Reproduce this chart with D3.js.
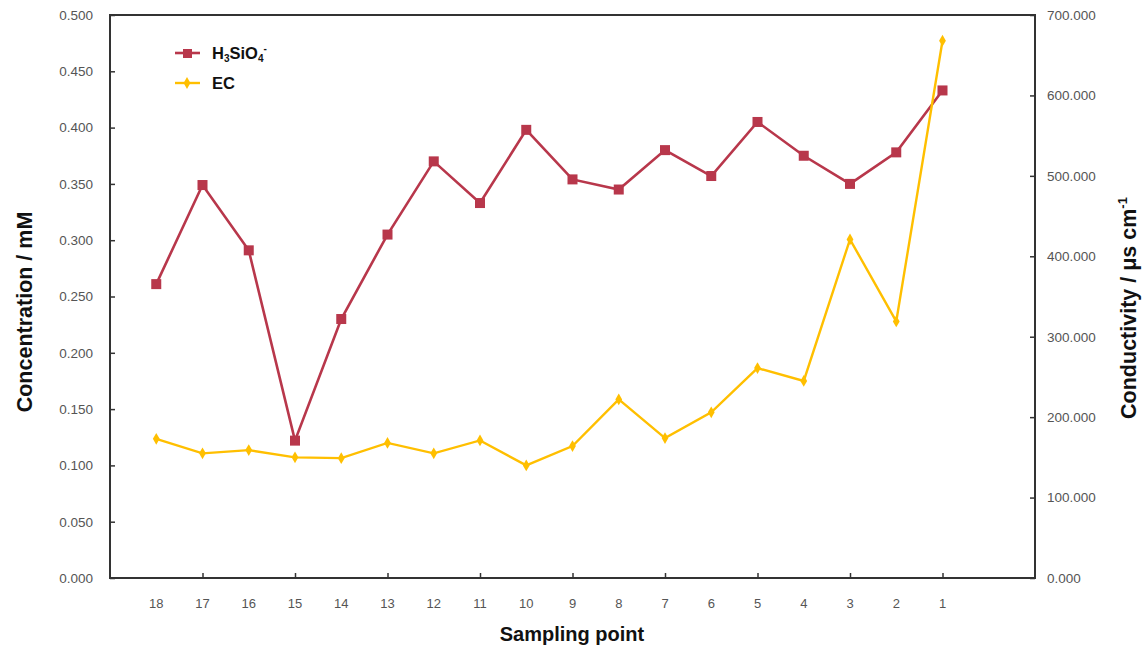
<!DOCTYPE html>
<html><head><meta charset="utf-8">
<script src="https://cdn.jsdelivr.net/npm/d3@7"></script>
<style>body{margin:0;background:#fff}</style>
</head><body>
<svg id="c" width="1145" height="650"></svg>
<script>
const categories = ["18","17","16","15","14","13","12","11","10","9","8","7","6","5","4","3","2","1"];
const silica = [0.261,0.349,0.291,0.122,0.230,0.305,0.370,0.333,0.398,0.354,0.345,0.380,0.357,0.405,0.375,0.350,0.378,0.433];
const ec = [173,155,159,150,149,168,155,171,140,164,222,174,206,261,245,421,319,668];
const leftTicks = [0,0.05,0.1,0.15,0.2,0.25,0.3,0.35,0.4,0.45,0.5];
const rightTicks = [0,100,200,300,400,500,600,700];

const svg = d3.select("#c");
const L = 110, R = 1035, T = 15, B = 578;
const x = d3.scaleLinear().domain([0, categories.length + 2]).range([L, R]);
const yL = d3.scaleLinear().domain([0, 0.5]).range([B, T]);
const yR = d3.scaleLinear().domain([0, 700]).range([B, T]);
const axisColor = "#333";
const tickFont = "Liberation Sans, Arial, sans-serif";

// frame
svg.append("rect").attr("x", L).attr("y", T).attr("width", R - L).attr("height", B - T)
  .attr("fill", "none").attr("stroke", axisColor).attr("stroke-width", 2);

// left axis
const gL = svg.append("g").attr("transform", `translate(${L},0)`)
  .call(d3.axisLeft(yL).tickValues(leftTicks).tickFormat(d3.format(".3f")).tickSize(-5).tickPadding(17));
// right axis
const gR = svg.append("g").attr("transform", `translate(${R},0)`)
  .call(d3.axisRight(yR).tickValues(rightTicks).tickFormat(d => d3.format(".3f")(d)).tickSize(-5).tickPadding(12));
// bottom axis: ticks at even slots, labels at each category
const gB = svg.append("g").attr("transform", `translate(0,${B})`)
  .call(d3.axisBottom(x).tickValues(d3.range(2, categories.length + 1, 2)).tickSize(-5).tickFormat(""));
svg.append("g").selectAll("text").data(categories).join("text")
  .attr("x", (d, i) => x(i + 1)).attr("y", B + 30).attr("text-anchor", "middle")
  .attr("font-family", tickFont).attr("font-size", 13).attr("fill", "#555").text(d => d);

[gL, gR, gB].forEach(g => {
  g.select(".domain").remove();
  g.selectAll(".tick line").attr("stroke", axisColor).attr("stroke-width", 1.5);
  g.selectAll(".tick text").attr("font-family", tickFont).attr("font-size", 13.5).attr("fill", "#555");
});

// series
const red = "#b8374b", yellow = "#ffbf00";
const lineL = d3.line().x((d, i) => x(i + 1)).y(d => yL(d));
const lineR = d3.line().x((d, i) => x(i + 1)).y(d => yR(d));
svg.append("path").datum(silica).attr("d", lineL).attr("fill", "none").attr("stroke", red).attr("stroke-width", 2.6);
svg.append("g").selectAll("rect").data(silica).join("rect")
  .attr("x", (d, i) => x(i + 1) - 5).attr("y", d => yL(d) - 5).attr("width", 10).attr("height", 10).attr("fill", red);
svg.append("path").datum(ec).attr("d", lineR).attr("fill", "none").attr("stroke", yellow).attr("stroke-width", 2.4);
const diamond = d3.symbol().type(d3.symbolDiamond).size(40);
svg.append("g").selectAll("path").data(ec).join("path")
  .attr("transform", (d, i) => `translate(${x(i + 1)},${yR(d)})`).attr("d", diamond).attr("fill", yellow);

// legend
const lg = svg.append("g");
lg.append("line").attr("x1", 175).attr("x2", 200).attr("y1", 53).attr("y2", 53).attr("stroke", red).attr("stroke-width", 2.6);
lg.append("rect").attr("x", 183).attr("y", 49).attr("width", 9).attr("height", 9).attr("fill", red);
const t1 = lg.append("text").attr("x", 212).attr("y", 59).attr("font-family", tickFont).attr("font-weight", "bold").attr("font-size", 16.5).attr("fill", "#111");
t1.append("tspan").text("H");
t1.append("tspan").attr("font-size", 10).attr("dy", 3).text("3");
t1.append("tspan").attr("dy", -3).text("SiO");
t1.append("tspan").attr("font-size", 10).attr("dy", 3).text("4");
t1.append("tspan").attr("font-size", 10).attr("dy", -10).text("-");
lg.append("line").attr("x1", 175).attr("x2", 200).attr("y1", 83).attr("y2", 83).attr("stroke", yellow).attr("stroke-width", 2.4);
lg.append("path").attr("transform", "translate(187,83)").attr("d", diamond).attr("fill", yellow);
lg.append("text").attr("x", 212).attr("y", 89).attr("font-family", tickFont).attr("font-weight", "bold").attr("font-size", 16.5).attr("fill", "#111").text("EC");

// axis titles
svg.append("text").attr("x", 572).attr("y", 641).attr("text-anchor", "middle")
  .attr("font-family", tickFont).attr("font-weight", "bold").attr("font-size", 20).attr("fill", "#111").text("Sampling point");
svg.append("text").attr("transform", "translate(32,312) rotate(-90)").attr("text-anchor", "middle")
  .attr("font-family", tickFont).attr("font-weight", "bold").attr("font-size", 21.5).attr("fill", "#111").text("Concentration / mM");
const rt = svg.append("text").attr("transform", "translate(1136,308) rotate(-90)").attr("text-anchor", "middle")
  .attr("font-family", tickFont).attr("font-weight", "bold").attr("font-size", 21.5).attr("fill", "#111");
rt.append("tspan").text("Conductivity / μs cm");
rt.append("tspan").attr("font-size", 13).attr("dy", -9).text("-1");
</script>
</body></html>
